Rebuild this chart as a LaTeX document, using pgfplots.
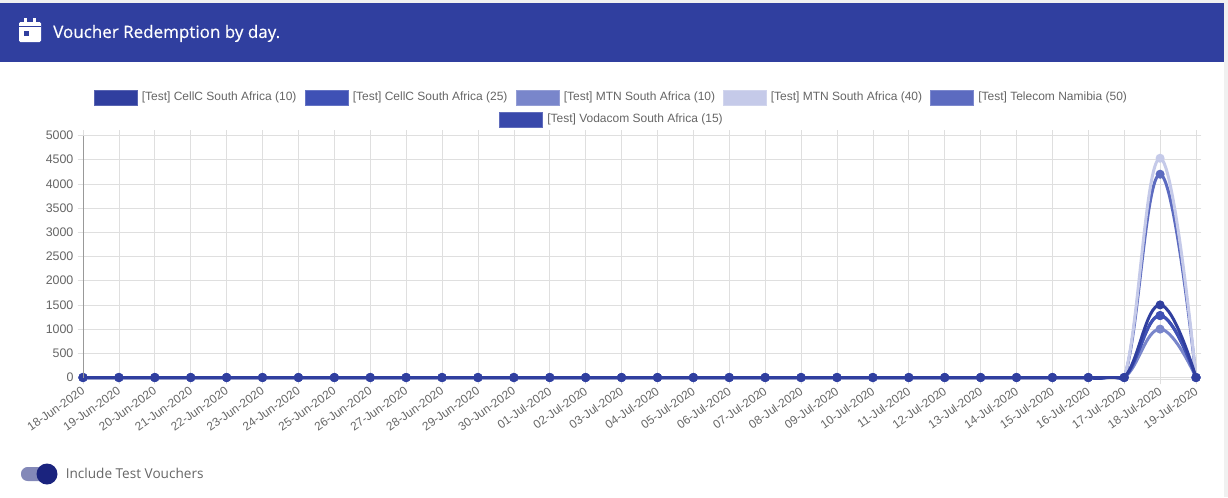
\documentclass[border=0pt]{standalone}
\usepackage{pgfplots}
\pgfplotsset{compat=1.18}
\usepackage{pgfplotstable}
\usepackage{fontspec}
\setmainfont{Liberation Sans}
\newfontfamily\rob{Open Sans}
\newfontfamily\robm[FakeBold=0.35]{Open Sans}
\definecolor{cA}{HTML}{303F9F}
\definecolor{cB}{HTML}{3F51B5}
\definecolor{cC}{HTML}{7986CB}
\definecolor{cD}{HTML}{C5CAE9}
\definecolor{cE}{HTML}{5C6BC0}
\definecolor{cF}{HTML}{3949AB}
\definecolor{txt}{HTML}{666666}
\definecolor{gridc}{HTML}{DFDFDF}
\definecolor{knob}{HTML}{1A237E}
\definecolor{track}{HTML}{8388B8}
\pgfplotstableread{
x a b c d e f
0 0 0 0 0 0 0
1 0 0 0 0 0 0
2 0 0 0 0 0 0
3 0 0 0 0 0 0
4 0 0 0 0 0 0
5 0 0 0 0 0 0
6 0 0 0 0 0 0
7 0 0 0 0 0 0
8 0 0 0 0 0 0
9 0 0 0 0 0 0
10 0 0 0 0 0 0
11 0 0 0 0 0 0
12 0 0 0 0 0 0
13 0 0 0 0 0 0
14 0 0 0 0 0 0
15 0 0 0 0 0 0
16 0 0 0 0 0 0
17 0 0 0 0 0 0
18 0 0 0 0 0 0
19 0 0 0 0 0 0
20 0 0 0 0 0 0
21 0 0 0 0 0 0
22 0 0 0 0 0 0
23 0 0 0 0 0 0
24 0 0 0 0 0 0
25 0 0 0 0 0 0
26 0 0 0 0 0 0
27 0 0 0 0 0 0
28 0 0 0 0 0 0
29 0 0 0 0 0 0
30 1500 1280 1000 4530 4200 1280
31 0 0 0 0 0 0
}\datatable
\pgfplotsset{ser/.style={smooth,tension=0.72,line width=2.25pt,mark=*,mark size=2.2pt,mark options={solid,fill=#1,draw=#1},color=#1}}
\newcommand{\legitem}[3]{%
  \fill[#2,draw=#2!80!white,line width=0.5pt] (#1,90.5) rectangle ++(43,15);
  \node[anchor=west,inner sep=0pt,text=txt,font=\fontsize{9pt}{10pt}\selectfont] at (#1+47.5,97.7) {#3};}
\begin{document}
\begin{tikzpicture}
\begin{scope}[x=0.75pt,y=-0.75pt]
\useasboundingbox (0,0) rectangle (1228,497);
\fill[white] (0,0) rectangle (1228,497);
\fill[gray!12] (0,0) rectangle (1228,3);
\fill[gray!12] (1224,0) rectangle (1228,497);
\fill[cA] (0,3) rectangle (1224,62);
% calendar icon
\fill[white,rounded corners=1pt] (19,22) rectangle (41,42);
\fill[white] (24,18) rectangle (27,24);
\fill[white] (33,18) rectangle (36,24);
\fill[cA] (19,25.5) rectangle (41,27);
\fill[cA] (24,31) rectangle (29,36);
\node[anchor=west,inner sep=0pt,text=white,font=\robm\fontsize{12.75pt}{15pt}\selectfont] at (53,33.5) {Voucher Redemption by day.};
\legitem{94}{cA}{[Test] CellC South Africa (10)}
\legitem{305}{cB}{[Test] CellC South Africa (25)}
\legitem{516}{cC}{[Test] MTN South Africa (10)}
\legitem{723}{cD}{[Test] MTN South Africa (40)}
\legitem{930.5}{cE}{[Test] Telecom Namibia (50)}
\begin{scope}[yshift=-16.5pt]
\legitem{499.5}{cF}{[Test] Vodacom South Africa (15)}
\end{scope}
\end{scope}
\begin{axis}[
  at={(62.25pt,-284.25pt)},anchor=south west,
  scale only axis,width=834.75pt,height=182.625pt,
  xmin=0,xmax=31,ymin=-31,ymax=5000,
  xtick={0,...,31},
  xticklabels={18-Jun-2020,19-Jun-2020,20-Jun-2020,21-Jun-2020,22-Jun-2020,23-Jun-2020,24-Jun-2020,25-Jun-2020,26-Jun-2020,27-Jun-2020,28-Jun-2020,29-Jun-2020,30-Jun-2020,01-Jul-2020,02-Jul-2020,03-Jul-2020,04-Jul-2020,05-Jul-2020,06-Jul-2020,07-Jul-2020,08-Jul-2020,09-Jul-2020,10-Jul-2020,11-Jul-2020,12-Jul-2020,13-Jul-2020,14-Jul-2020,15-Jul-2020,16-Jul-2020,17-Jul-2020,18-Jul-2020,19-Jul-2020},
  ytick={0,500,...,5000},
  scaled y ticks=false,
  /pgf/number format/assume math mode=true,
  yticklabel style={/pgf/number format/fixed,/pgf/number format/1000 sep={},font=\fontsize{9.3pt}{10pt}\selectfont,text=txt,inner sep=1.5pt,xshift=-1.5pt},
  xticklabel style={rotate=35,anchor=north east,font=\fontsize{8.9pt}{10pt}\selectfont,text=txt,inner sep=1pt,yshift=1pt,xshift=-1pt},
  grid=major,
  grid style={gridc,line width=0.5pt},
  tick style={gridc,line width=0.5pt},
  tick align=outside,
  major tick length=4pt,
  axis line style={draw=gridc,line width=0.5pt},
  clip mode=individual,
]
\addplot[ser=cF] table[x=x,y=f] {\datatable};
\addplot[ser=cE] table[x=x,y=e] {\datatable};
\addplot[ser=cD] table[x=x,y=d] {\datatable};
\addplot[ser=cC] table[x=x,y=c] {\datatable};
\addplot[ser=cB] table[x=x,y=b] {\datatable};
\addplot[ser=cA] table[x=x,y=a] {\datatable};
\addplot[cA,line width=2.25pt,no marks,forget plot,restrict x to domain=0:29] table[x=x,y=a] {\datatable};
\end{axis}
\begin{scope}[x=0.75pt,y=-0.75pt]
\draw[gray!80,line width=0.6pt] (83,135.5) -- (83,377.5);
% toggle
\fill[track,rounded corners=5pt] (21,467) rectangle (50,481);
\fill[knob] (47,474) circle (10.5);
\node[anchor=west,inner sep=0pt,text=txt,font=\rob\fontsize{10.2pt}{12pt}\selectfont] at (65.5,473.7) {Include Test Vouchers};
\end{scope}
\end{tikzpicture}
\end{document}
